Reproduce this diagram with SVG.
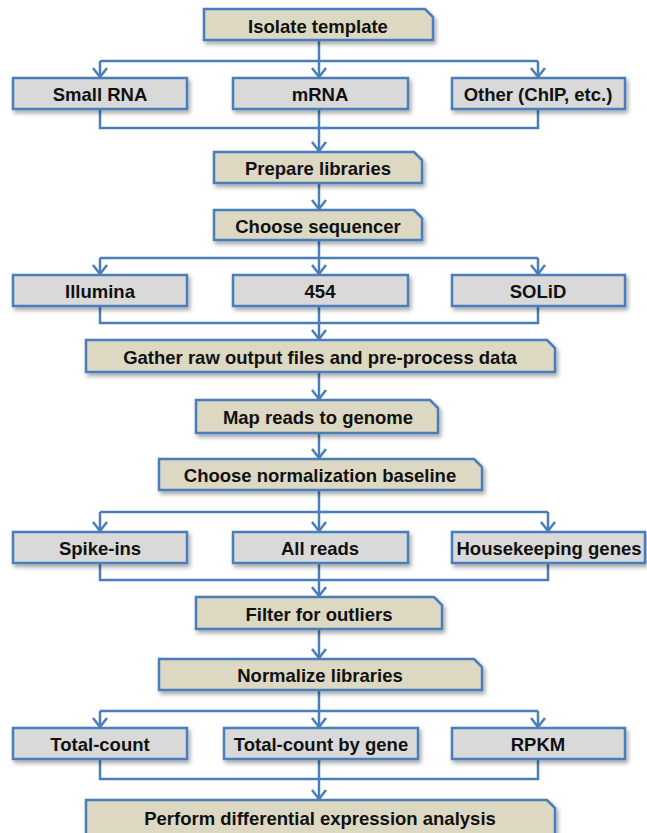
<svg xmlns="http://www.w3.org/2000/svg" width="647" height="833" viewBox="0 0 647 833">
  <defs>
    <filter id="shadow" x="-10%" y="-30%" width="120%" height="170%">
      <feDropShadow dx="2" dy="3" stdDeviation="2" flood-color="#000" flood-opacity="0.35"/>
    </filter>
    <marker id="arrow" markerUnits="userSpaceOnUse" markerWidth="20" markerHeight="20" viewBox="-12 -10 14 20" refX="0" refY="0" orient="auto">
      <path d="M-9,-7 L0,0 L-9,7" fill="none" stroke="#4a7ebb" stroke-width="2.5" stroke-linejoin="miter"/>
    </marker>
  </defs>
  <style>
    .step { fill: #dcd8c2; stroke: #4a7ebb; stroke-width: 2.5; filter: url(#shadow); }
    .opt { fill: #d9d9d9; stroke: #4a7ebb; stroke-width: 2.5; filter: url(#shadow); }
    .lbl { font-family: "Liberation Sans", Arial, sans-serif; font-weight: bold; font-size: 18.5px; fill: #111; text-anchor: middle; dominant-baseline: central; }
    .wire { fill: none; stroke: #4a7ebb; stroke-width: 2.5; }
    .arr { fill: none; stroke: #4a7ebb; stroke-width: 2.5; marker-end: url(#arrow); }
  </style>
  <rect width="647" height="833" fill="#fff"/>

  <g id="connectors">
    <!-- template to sample types -->
    <path class="wire" d="M319,40 V61 M100,61 H538"/>
    <path class="arr" d="M100,61 V77"/>
    <path class="arr" d="M319,61 V77"/>
    <path class="arr" d="M538,61 V77"/>
    <path class="wire" d="M100,109 V128 H538 V109"/>
    <path class="arr" d="M319,109 V151"/>
    <!-- libraries to sequencer -->
    <path class="arr" d="M319,183 V209"/>
    <!-- sequencer to platforms -->
    <path class="wire" d="M319,240 V258 M100,258 H538"/>
    <path class="arr" d="M100,258 V274"/>
    <path class="arr" d="M319,258 V274"/>
    <path class="arr" d="M538,258 V274"/>
    <path class="wire" d="M100,306 V323 H538 V306"/>
    <path class="arr" d="M319,306 V339"/>
    <!-- pre-process to mapping to baseline -->
    <path class="arr" d="M319,372 V399"/>
    <path class="arr" d="M319,433 V458"/>
    <!-- baseline options -->
    <path class="wire" d="M319,490 V512 M100,512 H548"/>
    <path class="arr" d="M100,512 V531"/>
    <path class="arr" d="M319,512 V531"/>
    <path class="arr" d="M548,512 V531"/>
    <path class="wire" d="M100,563 V580 H548 V563"/>
    <path class="arr" d="M319,563 V596"/>
    <!-- outliers to normalization -->
    <path class="arr" d="M319,629 V658"/>
    <!-- normalization methods -->
    <path class="wire" d="M319,690 V711 M100,711 H538"/>
    <path class="arr" d="M100,711 V727"/>
    <path class="arr" d="M319,711 V727"/>
    <path class="arr" d="M538,711 V727"/>
    <path class="wire" d="M100,759 V779 H538 V759"/>
    <path class="arr" d="M319,759 V799"/>
  </g>

  <g id="isolate-template">
    <path class="step" d="M204,9 H425 L433,17 V40 H204 Z"/>
    <text class="lbl" x="318" y="26">Isolate template</text>
  </g>
  <g id="small-rna">
    <rect class="opt" x="13" y="78" width="174" height="31"/>
    <text class="lbl" x="100" y="94">Small RNA</text>
  </g>
  <g id="mrna">
    <rect class="opt" x="233" y="78" width="175" height="31"/>
    <text class="lbl" x="320" y="94">mRNA</text>
  </g>
  <g id="other">
    <rect class="opt" x="452" y="78" width="173" height="31"/>
    <text class="lbl" x="538" y="94">Other (ChIP, etc.)</text>
  </g>
  <g id="prepare-libraries">
    <path class="step" d="M214,152 H414 L422,160 V183 H214 Z"/>
    <text class="lbl" x="318" y="168">Prepare libraries</text>
  </g>
  <g id="choose-sequencer">
    <path class="step" d="M214,210 H414 L422,218 V240 H214 Z"/>
    <text class="lbl" x="318" y="226">Choose sequencer</text>
  </g>
  <g id="illumina">
    <rect class="opt" x="13" y="275" width="174" height="31"/>
    <text class="lbl" x="100" y="291">Illumina</text>
  </g>
  <g id="roche-454">
    <rect class="opt" x="233" y="275" width="175" height="31"/>
    <text class="lbl" x="320" y="291">454</text>
  </g>
  <g id="solid">
    <rect class="opt" x="452" y="275" width="173" height="31"/>
    <text class="lbl" x="538" y="291">SOLiD</text>
  </g>
  <g id="gather-output">
    <path class="step" d="M86,340 H547 L555,348 V372 H86 Z"/>
    <text class="lbl" x="320" y="357">Gather raw output files and pre-process data</text>
  </g>
  <g id="map-reads">
    <path class="step" d="M196,400 H430 L438,408 V433 H196 Z"/>
    <text class="lbl" x="318" y="417">Map reads to genome</text>
  </g>
  <g id="normalization-baseline">
    <path class="step" d="M159,459 H474 L482,467 V490 H159 Z"/>
    <text class="lbl" x="320" y="475">Choose normalization baseline</text>
  </g>
  <g id="spike-ins">
    <rect class="opt" x="13" y="532" width="174" height="31"/>
    <text class="lbl" x="100" y="548">Spike-ins</text>
  </g>
  <g id="all-reads">
    <rect class="opt" x="233" y="532" width="175" height="31"/>
    <text class="lbl" x="320" y="548">All reads</text>
  </g>
  <g id="housekeeping">
    <rect class="opt" x="452" y="532" width="193" height="31"/>
    <text class="lbl" x="549" y="548">Housekeeping genes</text>
  </g>
  <g id="filter-outliers">
    <path class="step" d="M196,597 H434 L442,605 V629 H196 Z"/>
    <text class="lbl" x="319" y="614">Filter for outliers</text>
  </g>
  <g id="normalize-libraries">
    <path class="step" d="M159,659 H474 L482,667 V690 H159 Z"/>
    <text class="lbl" x="320" y="675">Normalize libraries</text>
  </g>
  <g id="total-count">
    <rect class="opt" x="13" y="728" width="174" height="31"/>
    <text class="lbl" x="100" y="744">Total-count</text>
  </g>
  <g id="total-count-gene">
    <rect class="opt" x="224" y="728" width="194" height="31"/>
    <text class="lbl" x="321" y="744">Total-count by gene</text>
  </g>
  <g id="rpkm">
    <rect class="opt" x="452" y="728" width="173" height="31"/>
    <text class="lbl" x="538" y="744">RPKM</text>
  </g>
  <g id="differential-expression">
    <path class="step" d="M86,800 H547 L555,808 V840 H86 Z"/>
    <text class="lbl" x="320" y="818">Perform differential expression analysis</text>
  </g>
</svg>
